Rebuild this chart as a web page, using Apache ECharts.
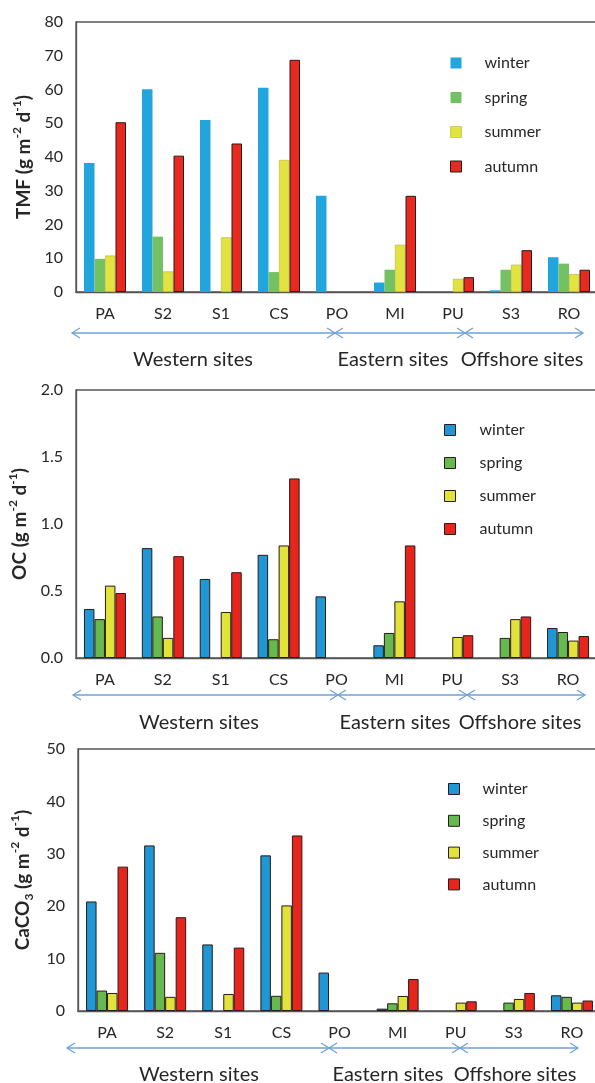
<!DOCTYPE html>
<html><head><meta charset="utf-8">
<script src="https://cdn.jsdelivr.net/npm/echarts@6.0.0/dist/echarts.min.js"></script>
<style>html,body{margin:0;padding:0;background:#fff}#c{width:595px;height:1083px}</style>
</head><body><div id="c"></div>
<script>
// ---------- data ----------
const sites = ['PA','S2','S1','CS','PO','MI','PU','S3','RO'];
const seasons = ['winter','spring','summer','autumn'];
const groups = ['Western sites','Eastern sites','Offshore sites'];

const tmfWinter = [38.2, 60.1, 51.0, 60.5, 28.5, 2.8, null, 0.5, 10.3];
const tmfSpring = [9.8, 16.4, null, 5.9, null, 6.6, null, 6.6, 8.4];
const tmfSummer = [10.8, 6.1, 16.2, 39.1, null, 14.0, 3.9, 8.1, 5.3];
const tmfAutumn = [50.3, 40.4, 44.0, 68.8, null, 28.5, 4.4, 12.4, 6.6];

const ocWinter = [0.366, 0.82, 0.59, 0.77, 0.46, 0.095, null, null, 0.224];
const ocSpring = [0.29, 0.31, null, 0.14, null, 0.187, null, 0.15, 0.194];
const ocSummer = [0.54, 0.15, 0.343, 0.84, null, 0.423, 0.157, 0.29, 0.13];
const ocAutumn = [0.485, 0.76, 0.64, 1.34, null, 0.84, 0.17, 0.31, 0.164];

const caWinter = [20.9, 31.6, 12.7, 29.7, 7.33, 0.45, null, null, 3.0];
const caSpring = [3.9, 11.1, null, 2.9, null, 1.47, null, 1.6, 2.7];
const caSummer = [3.44, 2.7, 3.25, 20.15, null, 2.87, 1.6, 2.3, 1.6];
const caAutumn = [27.55, 17.9, 12.1, 33.5, null, 6.1, 1.85, 3.44, 2.0];

const tmfAxis = {min: 0, max: 80, interval: 10};
const ocAxis = {min: 0, max: 2, interval: 0.5};
const caAxis = {min: 0, max: 50, interval: 10};

// ---------- style ----------
const FONT = 'Lato, "Open Sans", sans-serif';
const TXT = '#262626';
const colors1 = ['#22a4dd', '#74c163', '#e2e33e', '#e8291f'];
const colors2 = ['#1e97d4', '#66b94f', '#e1e23a', '#e6261c'];
const border1 = [0, 0, 0.6, 1];
const bc1 = ['#22a4dd', '#74c163', '#b5b540', '#2a1a1a'];

const grids = [
  {left: 76, top: 22, width: 522, height: 270},
  {left: 76, top: 390, width: 521, height: 268},
  {left: 78, top: 749, width: 523, height: 262}
];
const seriesData = [
  [tmfWinter, tmfSpring, tmfSummer, tmfAutumn],
  [ocWinter, ocSpring, ocSummer, ocAutumn],
  [caWinter, caSpring, caSummer, caAutumn]
];
const yCfg = [tmfAxis, ocAxis, caAxis];
const yNames = [
  '{b|TMF (g m}{s|-2}{b| d}{s|-1}{b|)}',
  '{b|OC (g m}{s|-2}{b| d}{s|-1}{b|)}',
  '{b|CaCO}{u|3}{b| (g m}{s|-2}{b| d}{s|-1}{b|)}'
];
const nameGaps = [36, 41, 33];
const legendPos = [
  {left: 445, top: 50, gap: 18.5, pad: 18},
  {left: 439, top: 417, gap: 17, pad: 19},
  {left: 443, top: 776, gap: 15.8, pad: 18}
];
const arrowRows = [
  {y: 333, xs: [72, 335, 465, 583], labelY: 360, cx: [193, 393, 522]},
  {y: 695, xs: [73, 338, 467, 585], labelY: 723, cx: [199, 395, 520]},
  {y: 1048, xs: [67, 329, 460, 578], labelY: 1075, cx: [199, 388, 515]}
];

const rich = {
  b: {fontFamily: FONT, fontSize: 19, fontWeight: 'bold', color: TXT, lineHeight: 26},
  s: {fontFamily: FONT, fontSize: 12, fontWeight: 'bold', color: TXT, lineHeight: 12, verticalAlign: 'top'},
  u: {fontFamily: FONT, fontSize: 12, fontWeight: 'bold', color: TXT, lineHeight: 12, verticalAlign: 'bottom'}
};

const option = {
  animation: false,
  backgroundColor: '#fff',
  grid: grids.map(g => Object.assign({show: true, borderColor: '#555', borderWidth: 1.3,
    backgroundColor: 'transparent', containLabel: false, outerBoundsMode: 'none'}, g)),
  xAxis: grids.map((g, i) => ({
    type: 'category', gridIndex: i, data: sites,
    axisLine: {show: true, lineStyle: {color: '#555', width: 1.3}},
    axisTick: {show: false},
    axisLabel: {fontFamily: FONT, fontSize: 16, color: TXT, margin: 14}
  })),
  yAxis: yCfg.map((c, i) => ({
    type: 'value', gridIndex: i, min: c.min, max: c.max, interval: c.interval,
    splitLine: {show: false},
    axisLine: {show: true, lineStyle: {color: '#555', width: 1.3}},
    axisTick: {show: false},
    axisLabel: {fontFamily: FONT, fontSize: 16, color: TXT, margin: 13,
      formatter: v => i === 1 ? v.toFixed(1) : String(v)},
    name: yNames[i], nameLocation: 'middle', nameGap: nameGaps[i],
    nameTextStyle: {rich: rich}
  })),
  legend: legendPos.map((p, i) => ({
    orient: 'vertical', left: p.left, top: p.top, itemGap: p.gap,
    itemWidth: 11, itemHeight: 11, icon: 'rect', selectedMode: false,
    textStyle: {fontFamily: FONT, fontSize: 16, color: TXT, lineHeight: 16, padding: [0, 0, 0, p.pad]},
    data: seasons.map((s, k) => ({
      name: s,
      itemStyle: i === 0
        ? {color: colors1[k], borderColor: bc1[k], borderWidth: border1[k]}
        : {color: colors2[k], borderColor: '#2a1a1a', borderWidth: 1}
    }))
  })),
  series: [],
  graphic: []
};

seriesData.forEach((set, gi) => {
  set.forEach((vals, k) => {
    option.series.push({
      type: 'bar', name: seasons[k], xAxisIndex: gi, yAxisIndex: gi,
      data: vals, barWidth: 10.5, barGap: '0%',
      itemStyle: gi === 0
        ? {color: colors1[k], borderColor: bc1[k], borderWidth: border1[k]}
        : {color: colors2[k], borderColor: '#2a1a1a', borderWidth: 1}
    });
  });
});

const ARROW = '#6fa2d6';
function arrow(x1, x2, y) {
  const ls = {stroke: ARROW, lineWidth: 1.3, fill: null};
  return [
    {type: 'polyline', shape: {points: [[x1, y], [x2, y]]}, style: ls, silent: true},
    {type: 'polyline', shape: {points: [[x1 + 8, y - 5], [x1, y], [x1 + 8, y + 5]]}, style: ls, silent: true},
    {type: 'polyline', shape: {points: [[x2 - 8, y - 5], [x2, y], [x2 - 8, y + 5]]}, style: ls, silent: true}
  ];
}
arrowRows.forEach(r => {
  for (let j = 0; j < 3; j++) {
    option.graphic.push(...arrow(r.xs[j], r.xs[j + 1], r.y));
    option.graphic.push({type: 'text', x: r.cx[j], y: r.labelY, silent: true,
      style: {text: groups[j], fontFamily: FONT, fontSize: 20, fill: TXT,
        textAlign: 'center', textVerticalAlign: 'middle'}});
  }
});

const chart = echarts.init(document.getElementById('c'), null, {renderer: 'canvas'});
chart.setOption(option);
</script></body></html>
